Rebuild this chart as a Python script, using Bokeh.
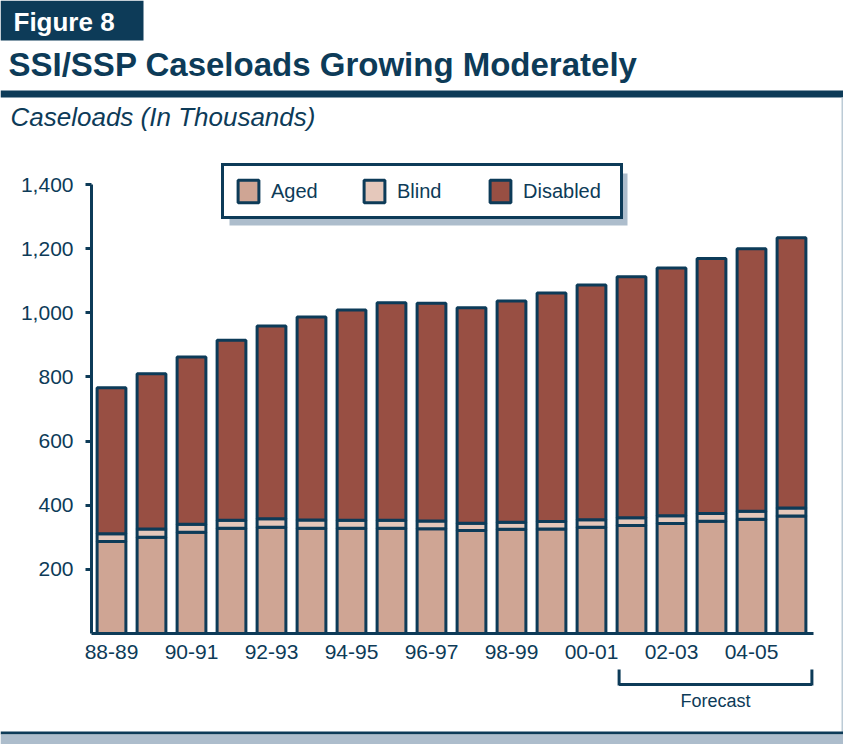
from bokeh.plotting import figure
from bokeh.models import (Range1d, FixedTicker, Label, BoxAnnotation, Arrow,
                          Legend, LegendItem, ColumnDataSource, NumeralTickFormatter)
from bokeh.embed import file_html
from bokeh.resources import INLINE

# ---------------- data (thousands) ----------------
years = ["88-89", "89-90", "90-91", "91-92", "92-93", "93-94", "94-95", "95-96",
         "96-97", "97-98", "98-99", "99-00", "00-01", "01-02", "02-03", "03-04",
         "04-05", "05-06"]
aged = [287, 300, 316, 328, 331, 328, 328, 328, 327, 321, 325, 326, 331, 337,
        343, 350, 356, 366]
blind = [24, 26, 25, 25, 27, 26, 25, 25, 24, 23, 22, 23, 24, 24, 24, 24, 25, 25]
total = [766, 810, 862, 914, 959, 987, 1009, 1031, 1030, 1016, 1037, 1062, 1087,
         1112, 1140, 1169, 1200, 1234]
disabled = [t - a - b for t, a, b in zip(total, aged, blind)]
y_ticks = [200, 400, 600, 800, 1000, 1200, 1400]
labelled_years = years[0:17:2]
forecast_years = years[13:]

NAVY = "#0d3b58"
AGED_C = "#cfa594"
BLIND_C = "#e5c8bb"
DIS_C = "#984f43"
SHADOW = "#adbdcc"
FONT = "Liberation Sans"

W, H = 843, 744
# canvas geometry: bar 0 centred at x=111, 40 px per bar; y=0 at canvas 633, 1400 at 184
PX_X = 40.0
X0_PX = 111.0
PX_Y = (633 - 184) / 1400.0
Y0_PX = 633.0
x_lo = -(X0_PX / PX_X)
x_hi = x_lo + W / PX_X
y_lo = -(H - Y0_PX) / PX_Y
y_hi = Y0_PX / PX_Y


def sx(cx):
    return cx


def sy(cy):
    return H - cy


idx = list(range(len(years)))
src = ColumnDataSource(dict(x=idx, aged=aged, blind=blind, disabled=disabled))

p = figure(width=W, height=H, output_backend="svg", toolbar_location=None,
           x_range=Range1d(x_lo, x_hi), y_range=Range1d(y_lo, y_hi),
           min_border=0, min_border_left=0, min_border_right=0,
           min_border_top=0, min_border_bottom=0)
p.outline_line_color = None
p.xgrid.visible = False
p.ygrid.visible = False
p.background_fill_color = "white"
p.border_fill_color = "white"

renderers = p.vbar_stack(["aged", "blind", "disabled"], x="x", width=0.72,
                         source=src, color=[AGED_C, BLIND_C, DIS_C],
                         line_color=NAVY, line_width=3)

# axes, drawn at fixed data locations inside the frame
yax = p.yaxis[0]
yax.fixed_location = -0.5
yax.ticker = FixedTicker(ticks=y_ticks)
yax.bounds = (0, 1400)
yax.formatter = NumeralTickFormatter(format="0,0")
yax.axis_line_color = NAVY
yax.axis_line_width = 3
yax.major_tick_line_color = NAVY
yax.major_tick_line_width = 3
yax.major_tick_out = 6
yax.major_tick_in = 0
yax.minor_tick_line_color = None
yax.major_label_text_font = FONT
yax.major_label_text_font_size = "21px"
yax.major_label_text_color = NAVY
yax.major_label_standoff = 12

xax = p.xaxis[0]
xax.fixed_location = 0
xax.ticker = FixedTicker(ticks=[years.index(y) for y in labelled_years])
xax.major_label_overrides = {years.index(y): y for y in labelled_years}
xax.bounds = (-0.5, len(years) - 0.45)
xax.axis_line_color = NAVY
xax.axis_line_width = 3
xax.major_tick_line_color = None
xax.major_tick_out = 0
xax.major_tick_in = 0
xax.minor_tick_line_color = None
xax.major_label_text_font = FONT
xax.major_label_text_font_size = "21px"
xax.major_label_text_color = NAVY
xax.major_label_standoff = 11


def box(x0, x1, y0, y1, color):
    p.add_layout(BoxAnnotation(left=sx(x0), right=sx(x1), top=sy(y0), bottom=sy(y1),
                               left_units="screen", right_units="screen",
                               top_units="screen", bottom_units="screen",
                               fill_color=color, fill_alpha=1, line_color=None))


def text(cx, cy, s, size, style="normal", color=NAVY, align="left"):
    p.add_layout(Label(x=sx(cx), y=sy(cy), x_units="screen", y_units="screen",
                       text=s, text_font=FONT, text_font_style=style,
                       text_font_size=size, text_color=color, text_align=align,
                       text_baseline="middle"))


# legend shadow + legend
box(229, 627, 173, 225, SHADOW)
legend = Legend(items=[LegendItem(label=n, renderers=[r])
                       for n, r in zip(["Aged", "Blind", "Disabled"], renderers)],
                orientation="horizontal", location=(sx(221), sy(219)),
                glyph_width=26, glyph_height=28, label_standoff=10,
                label_width=86, spacing=4, padding=11,
                label_text_font=FONT, label_text_font_size="20px",
                label_text_color=NAVY, border_line_color=NAVY,
                border_line_width=3, border_line_alpha=1,
                background_fill_color="white", background_fill_alpha=1)
p.add_layout(legend)

# header
box(0, 143, 0, 40, NAVY)
text(13, 21, "Figure 8", "26px", "bold", "white")
text(8, 64, "SSI/SSP Caseloads Growing Moderately", "33px", "bold")
box(0, 843, 90, 97, NAVY)
text(10, 116, "Caseloads (In Thousands)", "26px", "italic")

# right edge + bottom band
box(841, 843, 97, 732, "#bccbd6")
box(0, 843, 731, 734, NAVY)
box(0, 843, 734, 744, SHADOW)

# forecast bracket (spans the forecast bars)
fx0 = X0_PX + (years.index(forecast_years[0]) - 0.36) * PX_X + 2
fx1 = X0_PX + (years.index(forecast_years[-1]) + 0.36) * PX_X + 6
for (x0, y0, x1, y1) in [(fx0, 669, fx0, 685), (fx0, 684, fx1, 684), (fx1, 685, fx1, 669)]:
    p.add_layout(Arrow(x_start=sx(x0), y_start=sy(y0), x_end=sx(x1), y_end=sy(y1),
                       start_units="screen", end_units="screen", end=None,
                       line_color=NAVY, line_width=3))
text((fx0 + fx1) / 2, 700, "Forecast", "18px", align="center")

open("out.html", "w").write(file_html(p, INLINE))
